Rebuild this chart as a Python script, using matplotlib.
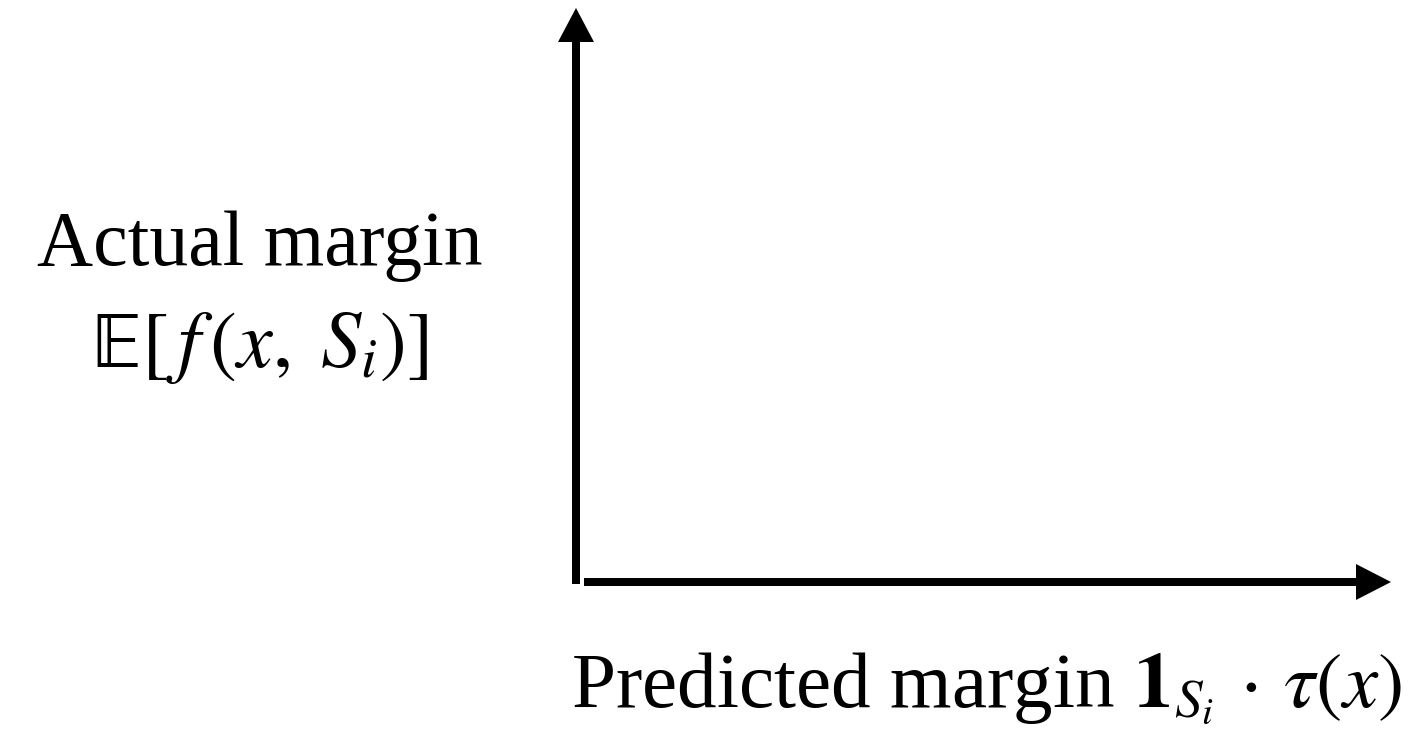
import matplotlib
matplotlib.use("Agg")
import matplotlib.pyplot as plt

plt.rcParams['font.family'] = ['Liberation Serif', 'DejaVu Serif']
plt.rcParams['mathtext.fontset'] = 'stix'

# axis labels of the schematic
y_label_lines = ["Actual margin", r"$\mathrm{𝔼}[\,f\,(x,\;S_i)]$"]
x_label = r"Predicted margin $\mathbf{1}_{S_i}\,\cdot\,\tau(x)$"

W, H = 1426, 737
fig = plt.figure(figsize=(W / 100, H / 100), dpi=100)
ax = fig.add_axes([0, 0, 1, 1])
ax.set_xlim(0, W)
ax.set_ylim(H, 0)
ax.axis('off')

# vertical axis arrow
ax.arrow(576, 584, 0, -576, width=8, head_width=36, head_length=34,
         length_includes_head=True, fc='black', ec='none')
# horizontal axis arrow
ax.arrow(584, 582, 807, 0, width=8, head_width=36, head_length=35,
         length_includes_head=True, fc='black', ec='none')

fs = 56
ax.text(260, 265, y_label_lines[0], fontsize=fs, ha='center', va='baseline')
ax.text(260, 367, y_label_lines[1], fontsize=fs + 2, ha='center', va='baseline')
ax.text(986, 707, x_label, fontsize=fs + 1, ha='center', va='baseline')

fig.savefig("out.png", dpi=100)
